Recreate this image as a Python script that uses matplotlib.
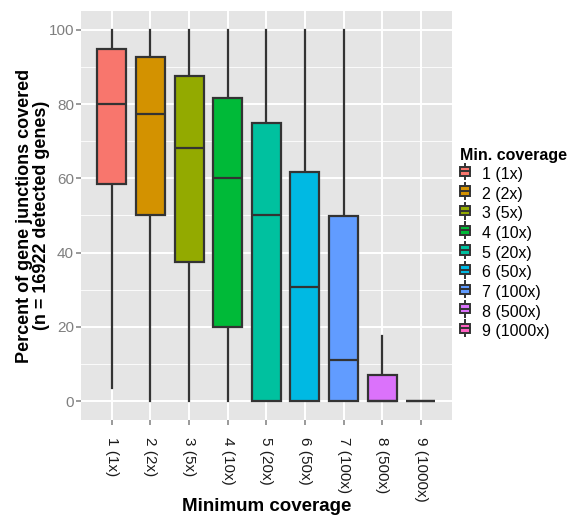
import matplotlib
matplotlib.use("Agg")
import matplotlib.pyplot as plt
from matplotlib.legend_handler import HandlerBase
from matplotlib.patches import Rectangle, Patch
from matplotlib.lines import Line2D

plt.rcParams["font.family"] = ["Liberation Sans", "DejaVu Sans"]

# box statistics (percent)
labels = ["1 (1x)", "2 (2x)", "3 (5x)", "4 (10x)", "5 (20x)",
          "6 (50x)", "7 (100x)", "8 (500x)", "9 (1000x)"]
whis_lo = [3.6, 0, 0, 0, 0, 0, 0, 0, 0]
q1 = [58.5, 50.0, 37.4, 20.0, 0, 0, 0, 0, 0]
med = [80.0, 77.3, 68.2, 60.0, 50.0, 30.8, 11.0, 0, 0]
q3 = [94.8, 92.8, 87.5, 81.7, 74.8, 61.7, 49.9, 6.9, 0]
whis_hi = [100, 100, 100, 100, 100, 100, 100, 17.4, 0]
colors = ["#F8766D", "#D39200", "#93AA00", "#00BA38", "#00C19F",
          "#00B9E3", "#619CFF", "#DB72FB", "#FF61C3"]

EDGE = "#333333"
TXT = "#7F7F7F"


class BoxKey(HandlerBase):
    def create_artists(self, legend, orig, xd, yd, w, h, fontsize, trans):
        cx = xd + w / 2
        bw = w * 0.85
        box = Rectangle((cx - bw / 2, yd + h * 0.15), bw, h * 0.7,
                        facecolor=orig.get_facecolor(), edgecolor=EDGE, lw=1.4,
                        transform=trans)
        wl = Line2D([cx, cx], [yd - h * 0.1, yd + h * 1.1], color=EDGE, lw=1.4,
                    transform=trans)
        ml = Line2D([cx - bw / 2, cx + bw / 2], [yd + h / 2] * 2, color=EDGE, lw=1.4,
                    transform=trans)
        return [wl, box, ml]


fig = plt.figure(figsize=(5.68, 5.18), dpi=100)
ax = fig.add_axes([0.1426, 0.1892, 0.6526, 0.7896])
ax.set_facecolor("#E5E5E5")

stats = []
for i in range(len(labels)):
    stats.append(dict(med=med[i], q1=q1[i], q3=q3[i], whislo=whis_lo[i],
                      whishi=whis_hi[i], fliers=[]))

pos = list(range(1, len(labels) + 1))
bp = ax.bxp(stats, positions=pos, widths=0.75, patch_artist=True, showcaps=False,
            showfliers=False,
            boxprops=dict(edgecolor=EDGE, linewidth=1.6),
            whiskerprops=dict(color=EDGE, linewidth=1.6),
            medianprops=dict(color=EDGE, linewidth=1.6))
for b, c in zip(bp["boxes"], colors):
    b.set_facecolor(c)
    b.set_zorder(3)
for m in bp["medians"]:
    m.set_zorder(4)

ax.set_xlim(0.2, 9.8)
ax.set_ylim(-5.1, 105.1)
ax.set_yticks([0, 20, 40, 60, 80, 100])
ax.set_yticks([10, 30, 50, 70, 90], minor=True)
ax.set_xticks(pos)
ax.set_xticklabels(labels, rotation=270, va="top", ha="center",
                   color="#1A1A1A", fontsize=11)
ax.grid(which="major", color="white", lw=1.4, zorder=0)
ax.grid(which="minor", axis="y", color="white", lw=0.6, zorder=0)
ax.set_axisbelow(True)
for s in ax.spines.values():
    s.set_visible(False)
ax.tick_params(axis="both", which="major", color=TXT, length=3.6, width=1.1)
ax.tick_params(axis="y", labelcolor=TXT, labelsize=11, pad=1.5)
ax.tick_params(axis="x", pad=9)
ax.tick_params(axis="y", which="minor", length=0)

ax.set_xlabel("Minimum coverage", fontsize=13.5, fontweight="bold")
ax.xaxis.set_label_coords(0.5, -0.19)
ax.set_ylabel("Percent of gene junctions covered\n(n = 16922 detected genes)",
              fontsize=13, fontweight="bold", linespacing=1.0)
ax.yaxis.set_label_coords(-0.083, 0.5)

handles = [Patch(facecolor=c) for c in colors]
leg = fig.legend(handles, labels, title="Min. coverage", loc="upper left",
                 bbox_to_anchor=(0.809, 0.715), frameon=False,
                 handler_map={Patch: BoxKey()}, fontsize=11.5,
                 handlelength=0.7, handleheight=0.9, handletextpad=0.7,
                 labelspacing=0.28, borderaxespad=0, borderpad=0)
leg.get_title().set_fontweight("bold")
leg.get_title().set_fontsize(11.5)
leg._legend_box.align = "left"

fig.savefig("out.png", dpi=100)
